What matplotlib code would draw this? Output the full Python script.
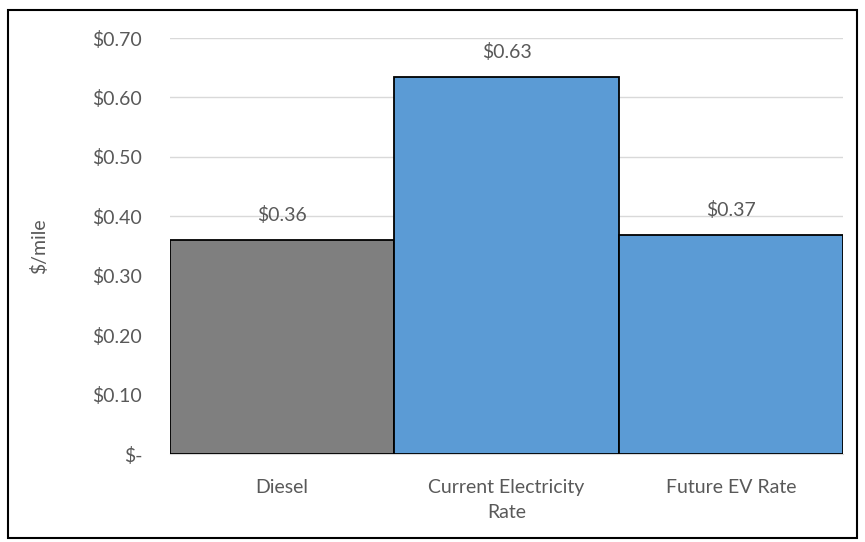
import matplotlib.pyplot as plt
from matplotlib.patches import Rectangle
from matplotlib.ticker import FuncFormatter

categories = ['Diesel', 'Current Electricity\nRate', 'Future EV Rate']
cost_per_mile = [0.36, 0.634, 0.368]
bar_colors = ['#7F7F7F', '#5B9BD5', '#5B9BD5']
y_ticks = [0.0, 0.1, 0.2, 0.3, 0.4, 0.5, 0.6, 0.7]

plt.rcParams['font.family'] = ['Lato', 'DejaVu Sans']
text_color = '#595959'
fs = 14

fig = plt.figure(figsize=(8.65, 5.42), dpi=100)
ax = fig.add_axes([170 / 865, 1 - 454 / 542, (843 - 170) / 865, (454 - 38) / 542])

x = list(range(len(categories)))
ax.bar(x, cost_per_mile, width=1.0, color=bar_colors, edgecolor='black', linewidth=1.3, zorder=3)

# value labels above each bar
for xi, v in zip(x, cost_per_mile):
    ax.text(xi, v + 0.043, f'${v:.2f}', ha='center', va='center', fontsize=fs, color=text_color, zorder=4)

def money(val, pos):
    if abs(val) < 1e-9:
        return '$-'
    return f'${val:.2f}'

ax.set_xlim(-0.5, 2.5)
ax.set_ylim(0, 0.70)
ax.set_yticks(y_ticks)
ax.yaxis.set_major_formatter(FuncFormatter(money))
ax.set_xticks(x)
ax.set_xticklabels(categories, fontsize=fs, color=text_color, linespacing=1.55)
ax.tick_params(axis='y', length=0, labelsize=fs, labelcolor=text_color, pad=20)
ax.tick_params(axis='x', length=0, pad=18)
ax.grid(axis='y', color='#D9D9D9', linewidth=1, zorder=0)
for side in ['top', 'right', 'left']:
    ax.spines[side].set_visible(False)
ax.spines['bottom'].set_color('#D9D9D9')
ax.set_ylabel('$/mile', fontsize=fs, color=text_color, labelpad=32)

fig.patches.append(Rectangle((8 / 865, 4 / 542), 849 / 865, 528 / 542, transform=fig.transFigure,
                             fill=False, edgecolor='black', linewidth=1.5))

fig.savefig('out.png', dpi=100)
